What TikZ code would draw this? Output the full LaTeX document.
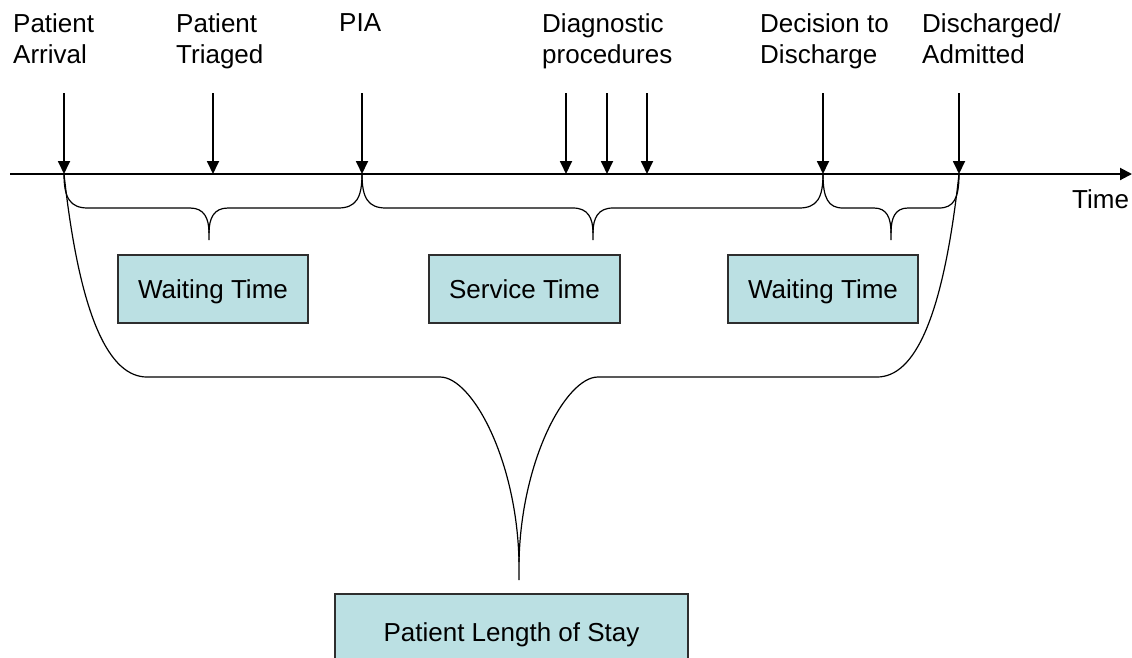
\documentclass[tikz,border=0pt]{standalone}
\usepackage{fontspec}
\setmainfont{Liberation Sans}
\usetikzlibrary{arrows.meta}
\definecolor{boxfill}{HTML}{BBE0E3}
\definecolor{boxline}{HTML}{2E2E2E}
\begin{document}
\begin{tikzpicture}[x=1pt,y=-1pt,
  lbl/.style={anchor=north west, inner sep=0pt, align=left, font=\fontsize{26}{31}\selectfont},
  tbox/.style={draw=boxline, line width=1.3pt, fill=boxfill, minimum width=190pt, minimum height=68pt, inner sep=0pt, text height=18.7pt, text depth=0pt, font=\fontsize{26}{31}\selectfont},
  evarrow/.style={line width=1.8pt, -{Triangle[length=13pt,width=12pt]}},
  axis/.style={line width=2pt, -{Triangle[length=12pt,width=12pt]}},
  brace/.style={line width=1.2pt, line join=round}]
\useasboundingbox (0,0) rectangle (1132,657);
% labels
\node[lbl] (lArr) at (13,13.4) {Patient\\Arrival};
\node[lbl] (lTri) at (176,13.4) {Patient\\Triaged};
\node[lbl] (lPia) at (339,13.4) {PIA};
\node[lbl] (lDia) at (542,13.4) {Diagnostic\\procedures};
\node[lbl] (lDec) at (760,13.4) {Decision to\\Discharge};
\node[lbl] (lDis) at (922,13.4) {Discharged/\\Admitted};
\node[anchor=base west, inner sep=0pt, font=\fontsize{26}{31}\selectfont] (time) at (1072,208) {Time};
% coordinates
\coordinate (ts) at (10,174);
\coordinate (te) at (1132,174);
\foreach \n/\x in {1/64,2/213,3/362,4/566,5/607,6/647,7/823,8/959}{
  \coordinate (a\n) at (\x,93);
  \coordinate (t\n) at (\x,174);
}
% timeline
\draw[axis] (ts) -- (te);
\foreach \n in {1,...,8}{ \draw[evarrow] (a\n) -- (t\n); }
% small braces
\draw[brace] (t1) .. controls (64,198) and (70,208) .. (88,208) -- (190,208)
  .. controls (204,208) and (209,218) .. (209,233) -- (209,240);
\draw[brace] (t3) .. controls (362,198) and (356,208) .. (338,208) -- (228,208)
  .. controls (214,208) and (209,218) .. (209,233);
\draw[brace] (t3) .. controls (362,198) and (368,208) .. (386,208) -- (573,208)
  .. controls (588,208) and (593,218) .. (593,233) -- (593,240);
\draw[brace] (t7) .. controls (823,198) and (817,208) .. (799,208) -- (613,208)
  .. controls (598,208) and (593,218) .. (593,233);
\draw[brace] (t7) .. controls (823,198) and (828,208) .. (843,208) -- (874,208)
  .. controls (887,208) and (891,218) .. (891,233) -- (891,240);
\draw[brace] (t8) .. controls (959,198) and (954,208) .. (939,208) -- (908,208)
  .. controls (895,208) and (891,218) .. (891,233);
% big brace
\draw[brace] (t1) .. controls (80,320) and (110,377) .. (147,377) -- (440,377)
  .. controls (472,377) and (517,460) .. (519,562) -- (519,580);
\draw[brace] (t8) .. controls (943,320) and (914,377) .. (877,377) -- (598,377)
  .. controls (566,377) and (521,460) .. (519,562);
% boxes
\node[tbox] (wt1) at (213,289) {Waiting Time};
\node[tbox, minimum width=191pt] (svc) at (524.5,289) {Service Time};
\node[tbox] (wt2) at (823,289) {Waiting Time};
\begin{scope}
\clip (0,0) rectangle (1132,657);
\node[tbox, minimum width=353pt, minimum height=76pt] (los) at (511.5,632) {Patient Length of Stay};
\end{scope}
\end{tikzpicture}
\end{document}
